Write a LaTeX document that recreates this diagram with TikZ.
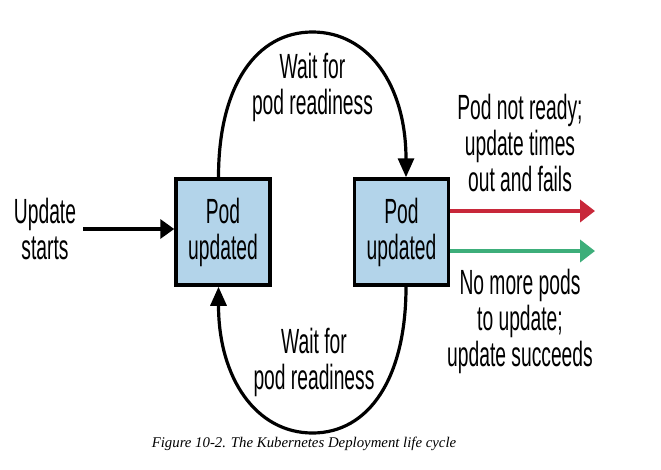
\documentclass[tikz,border=0pt]{standalone}
\usepackage{fontspec}
\setmainfont{Liberation Sans}
\newfontfamily\condfont[FakeStretch=0.55]{Liberation Sans}
\newfontfamily\capfont{Liberation Serif}
\usetikzlibrary{arrows.meta}
\definecolor{boxblue}{HTML}{B3D4EA}
\definecolor{failred}{HTML}{C8283A}
\definecolor{okgreen}{HTML}{3DAE7A}
\begin{document}
\begin{tikzpicture}[x=1pt,y=-1pt,
  lbl/.style={font=\condfont\fontsize{35}{36}\selectfont, align=center, inner sep=0pt},
  podbox/.style={draw=black, line width=3.5pt, fill=boxblue, minimum width=94pt, minimum height=106pt, inner sep=0pt, lbl},
  flow/.style={line width=3.2pt, -{Triangle[length=19pt,width=16pt]}},
  startflow/.style={line width=4pt, -{Triangle[length=14pt,width=19pt]}},
  outflow/.style={line width=4.5pt, -{Triangle[length=15pt,width=22pt]}},
  capstyle/.style={font=\capfont\itshape\fontsize{14.8}{17}\selectfont, inner sep=0pt, anchor=base}
]
\useasboundingbox (0,0) rectangle (661,469);
\fill[white] (0,0) rectangle (661,469);

\node[podbox] (lbox) at (223,232) {Pod\\updated};
\node[podbox] (rbox) at (401.5,232) {Pod\\updated};

\node[lbl] (start) at (45,229) {Update\\starts};
\draw[startflow] ([xshift=7pt]start.east) -- (start.east -| lbox.west);

\coordinate (top) at (312.5,32);
\coordinate (bot) at (312.5,433);
\draw[flow] ([xshift=-4.5pt]lbox.north) .. controls +(0,-92) and +(-56,0) .. (top)
  .. controls +(56,0) and +(0,-92) .. ([xshift=4.5pt]rbox.north);
\draw[flow] ([xshift=4.5pt]rbox.south) .. controls +(0,92) and +(56,0) .. (bot)
  .. controls +(-56,0) and +(0,92) .. ([xshift=-4.5pt]lbox.south);

\node[lbl] (waittop) at (312.5,87.5) {Wait for\\pod readiness};
\node[lbl] (waitbot) at (314,362) {Wait for\\pod readiness};

\coordinate (redend) at (595,211);
\coordinate (greenend) at (595,251);
\draw[outflow, failred] (rbox.east |- redend) -- (redend);
\draw[outflow, okgreen] (rbox.east |- greenend) -- (greenend);

\node[lbl] (fail) at (520,143) {Pod not ready;\\update times\\out and fails};
\node[lbl] (ok) at (520,321) {No more pods\\to update;\\update succeeds};

\node[capstyle] (cap) at (304,447) {Figure 10-2. The Kubernetes Deployment life cycle};
\end{tikzpicture}
\end{document}
